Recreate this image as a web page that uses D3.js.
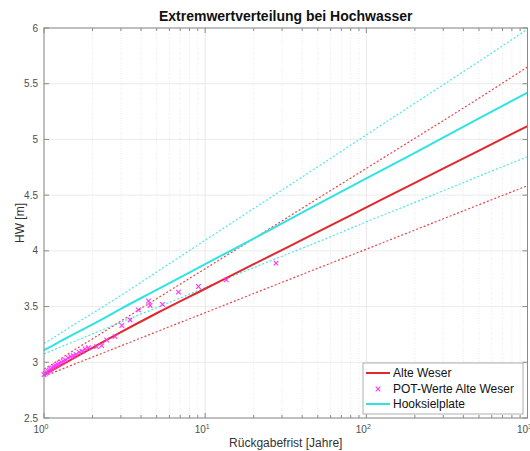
<!DOCTYPE html>
<html>
<head>
<meta charset="utf-8">
<script src="https://cdn.jsdelivr.net/npm/d3@7"></script>
<style>
  html, body { margin: 0; padding: 0; background: #fff; }
  svg { display: block; font-family: "Liberation Sans", Arial, sans-serif; }
</style>
</head>
<body>
<svg id="chart" width="530" height="451"></svg>
<script>
// ---- data ----
const returnPeriods = [1, 1.1, 1.25, 1.5, 2, 3, 5, 10, 20, 50, 100, 200, 500, 1000];
const alteWeser      = [2.89, 2.92, 2.965, 3.03, 3.13, 3.27, 3.44, 3.66, 3.88, 4.17, 4.39, 4.61, 4.90, 5.12];
const alteWeserUpper = [2.94, 2.975, 3.025, 3.10, 3.21, 3.37, 3.57, 3.84, 4.11, 4.47, 4.74, 5.01, 5.37, 5.65];
const alteWeserLower = [2.875, 2.898, 2.93, 2.976, 3.047, 3.147, 3.274, 3.445, 3.617, 3.844, 4.015, 4.187, 4.414, 4.585];
const hooksiel       = [3.11, 3.14, 3.185, 3.245, 3.34, 3.48, 3.65, 3.88, 4.11, 4.42, 4.65, 4.88, 5.19, 5.42];
const hooksielUpper  = [3.17, 3.205, 3.255, 3.33, 3.44, 3.60, 3.81, 4.095, 4.38, 4.755, 5.04, 5.325, 5.70, 5.99];
const hooksielLower  = [3.075, 3.10, 3.135, 3.18, 3.255, 3.36, 3.49, 3.67, 3.85, 4.08, 4.26, 4.435, 4.67, 4.845];

const potT = [1.00, 1.02, 1.04, 1.06, 1.08, 1.10, 1.12, 1.15, 1.18, 1.21, 1.24, 1.28, 1.32, 1.36, 1.41, 1.46, 1.52, 1.58,
              1.65, 1.72, 1.80, 1.89, 2.12, 2.28, 2.45, 2.76, 3.04, 3.42, 3.85, 4.45, 4.55, 5.43, 6.83, 9.08, 13.5, 27.5];
const potV = [2.89, 2.90, 2.91, 2.92, 2.93, 2.94, 2.95, 2.96, 2.97, 2.98, 2.99, 3.00, 3.01, 3.02, 3.04, 3.05, 3.06, 3.07,
              3.09, 3.10, 3.12, 3.13, 3.14, 3.15, 3.20, 3.23, 3.33, 3.38, 3.47, 3.55, 3.51, 3.52, 3.63, 3.68, 3.74, 3.89];

const yTicks = [2.5, 3, 3.5, 4, 4.5, 5, 5.5, 6];
const xMajorTicks = [1, 10, 100, 1000];
const xTickExponents = ["0", "1", "2", "3"];

const title = "Extremwertverteilung bei Hochwasser";
const xLabel = "Rückgabefrist [Jahre]";
const yLabel = "HW [m]";
const legendLabels = ["Alte Weser", "POT-Werte Alte Weser", "Hooksielplate"];

// ---- layout ----
const L = 44, R = 527.5, T = 28, B = 418;
const red = "#e3262d", cyan = "#2fe3e3", magenta = "#ff33ff";

const svg = d3.select("#chart");
const x = d3.scaleLog().domain([1, 1000]).range([L, R]);
const y = d3.scaleLinear().domain([2.5, 6]).range([B, T]);

// minor x positions
const xMinor = [];
for (let d = 1; d < 1000; d *= 10) for (let k = 2; k <= 9; k++) xMinor.push(d * k);

// grid
const grid = svg.append("g");
grid.selectAll(".gm").data(xMinor).join("line")
  .attr("x1", d => x(d)).attr("x2", d => x(d)).attr("y1", T).attr("y2", B)
  .attr("stroke", "#e4e4e4").attr("stroke-width", 0.8).attr("stroke-dasharray", "1,1.5");
grid.selectAll(".gx").data(xMajorTicks).join("line")
  .attr("x1", d => x(d)).attr("x2", d => x(d)).attr("y1", T).attr("y2", B)
  .attr("stroke", "#e2e2e2").attr("stroke-width", 0.8);
grid.selectAll(".gy").data(yTicks).join("line")
  .attr("x1", L).attr("x2", R).attr("y1", d => y(d)).attr("y2", d => y(d))
  .attr("stroke", "#e6e6e6").attr("stroke-width", 0.8);

// lines
const line = d3.line().x(d => x(d[0])).y(d => y(d[1])).curve(d3.curveMonotoneX);
const zipT = vals => returnPeriods.map((t, i) => [t, vals[i]]);
const plot = svg.append("g");
function drawLine(vals, color, width, dash) {
  plot.append("path").datum(zipT(vals))
    .attr("d", line).attr("fill", "none").attr("stroke", color)
    .attr("stroke-width", width).attr("stroke-dasharray", dash || null)
    .attr("stroke-opacity", dash ? 0.85 : 1);
}
drawLine(alteWeserUpper, red, 1.2, "2,2");
drawLine(alteWeserLower, red, 1.2, "2,2");
drawLine(hooksielUpper, cyan, 1.2, "2,2");
drawLine(hooksielLower, cyan, 1.2, "2,2");
drawLine(hooksiel, cyan, 2);
drawLine(alteWeser, red, 2);

// POT markers
const ms = 2.3;
const pot = plot.append("g").attr("stroke", magenta).attr("stroke-width", 1.1);
potT.forEach((t, i) => {
  const cx = x(t), cy = y(potV[i]);
  pot.append("path").attr("d", `M${cx-ms},${cy-ms}L${cx+ms},${cy+ms}M${cx-ms},${cy+ms}L${cx+ms},${cy-ms}`);
});

// axes box
const axisColor = "#8a8a8a";
svg.append("rect").attr("x", L).attr("y", T).attr("width", R - L).attr("height", B - T)
  .attr("fill", "none").attr("stroke", axisColor).attr("stroke-width", 1);

// ticks (inward, bottom and top)
const tk = svg.append("g").attr("stroke", axisColor).attr("stroke-width", 1);
xMajorTicks.forEach(d => {
  tk.append("line").attr("x1", x(d)).attr("x2", x(d)).attr("y1", B).attr("y2", B - 5);
  tk.append("line").attr("x1", x(d)).attr("x2", x(d)).attr("y1", T).attr("y2", T + 5);
});
xMinor.forEach(d => {
  tk.append("line").attr("x1", x(d)).attr("x2", x(d)).attr("y1", B).attr("y2", B - 3);
  tk.append("line").attr("x1", x(d)).attr("x2", x(d)).attr("y1", T).attr("y2", T + 3);
});
yTicks.forEach(d => {
  tk.append("line").attr("x1", L).attr("x2", L + 5).attr("y1", y(d)).attr("y2", y(d));
  tk.append("line").attr("x1", R).attr("x2", R - 5).attr("y1", y(d)).attr("y2", y(d));
});

// tick labels
const tl = svg.append("g").attr("fill", "#4d4d4d").attr("font-size", 10);
yTicks.forEach(d => {
  tl.append("text").attr("x", L - 6).attr("y", y(d) + 3.5).attr("text-anchor", "end").text(d3.format("")(d));
});
xMajorTicks.forEach((d, i) => {
  const t = tl.append("text").attr("x", x(d) - 3).attr("y", B + 15).attr("text-anchor", "middle");
  t.append("tspan").text("10");
  t.append("tspan").attr("dy", -4).attr("font-size", 7).text(xTickExponents[i]);
});

// titles
svg.append("text").attr("x", (L + R) / 2).attr("y", 21).attr("text-anchor", "middle")
  .attr("font-size", 14).attr("font-weight", "bold").attr("fill", "#111").text(title);
svg.append("text").attr("x", (L + R) / 2).attr("y", 447).attr("text-anchor", "middle")
  .attr("font-size", 12).attr("fill", "#333").text(xLabel);
svg.append("text").attr("transform", `translate(24,${(T + B) / 2}) rotate(-90)`).attr("text-anchor", "middle")
  .attr("font-size", 12).attr("fill", "#333").text(yLabel);

// legend
const lg = svg.append("g");
lg.append("rect").attr("x", 363).attr("y", 363).attr("width", 160).attr("height", 51)
  .attr("fill", "#fff").attr("stroke", "#b0b0b0").attr("stroke-width", 1);
const rows = [373, 389, 404];
lg.append("line").attr("x1", 366).attr("x2", 390).attr("y1", rows[0]).attr("y2", rows[0])
  .attr("stroke", red).attr("stroke-width", 2);
lg.append("path").attr("d", `M${378-ms},${rows[1]-ms}L${378+ms},${rows[1]+ms}M${378-ms},${rows[1]+ms}L${378+ms},${rows[1]-ms}`)
  .attr("stroke", magenta).attr("stroke-width", 1.1);
lg.append("line").attr("x1", 366).attr("x2", 390).attr("y1", rows[2]).attr("y2", rows[2])
  .attr("stroke", cyan).attr("stroke-width", 2);
legendLabels.forEach((s, i) => {
  lg.append("text").attr("x", 393).attr("y", rows[i] + 4.2).attr("font-size", 12).attr("fill", "#111").text(s);
});
</script>
</body>
</html>
